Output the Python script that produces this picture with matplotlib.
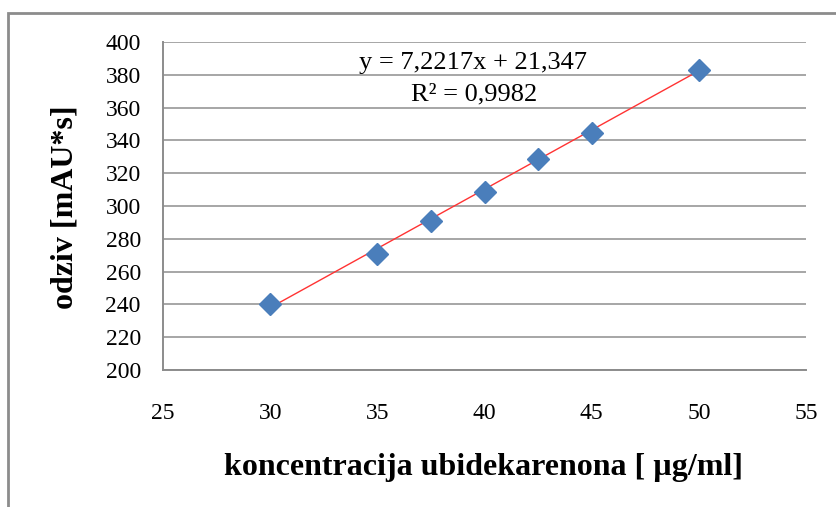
import numpy as np
import matplotlib.pyplot as plt
from matplotlib.patches import Rectangle

# concentration [ug/ml] and response [mAU*s]
conc = [30, 35, 37.5, 40, 42.5, 45, 50]
odziv = [240.5, 270.8, 291.0, 308.8, 328.8, 344.5, 383.2]

# trendline as given on the chart
slope = 7.2217
intercept = 21.347
r2 = 0.9982

x_ticks = [25, 30, 35, 40, 45, 50, 55]
y_ticks = [200, 220, 240, 260, 280, 300, 320, 340, 360, 380, 400]

plt.rcParams['font.family'] = ['Liberation Serif', 'DejaVu Serif']

fig = plt.figure(figsize=(8.37, 5.07), dpi=100)
ax = fig.add_axes([163 / 837, 1 - 370 / 507, (806 - 163) / 837, (370 - 42) / 507])

# outer chart frame
fig.patches.append(Rectangle((8 / 837, -0.1), 1.2, 1 - 13 / 507 + 0.1, transform=fig.transFigure,
                             fill=False, edgecolor='#8c8c8c', linewidth=2))

ax.set_xlim(25, 55)
ax.set_ylim(200, 400)
ax.set_xticks(x_ticks)
ax.set_yticks(y_ticks)
ax.yaxis.grid(True, color='#a6a6a6', linewidth=1.4)
ax.set_axisbelow(True)
for side in ['top', 'right']:
    ax.spines[side].set_visible(False)
for side in ['left', 'bottom']:
    ax.spines[side].set_color('#8c8c8c')
    ax.spines[side].set_linewidth(1.4)
ax.tick_params(axis='both', length=0, labelsize=17)
ax.tick_params(axis='x', pad=24)
ax.tick_params(axis='y', pad=16)

xs = np.array([min(conc), max(conc)])
ax.plot(xs, slope * xs + intercept, color='#ff3333', linewidth=1, zorder=2)
ax.plot(conc, odziv, linestyle='none', marker='D', markersize=11,
        color='#4a7ebb', zorder=3, clip_on=False)

ax.text(473 / 837, 1 - 63 / 507, 'y = 7,2217x + 21,347', transform=fig.transFigure,
        ha='center', va='center', fontsize=19)
ax.text(474 / 837, 1 - 94 / 507, 'R² = 0,9982', transform=fig.transFigure,
        ha='center', va='center', fontsize=19)

fig.text(65 / 837, 1 - 207 / 507, 'odziv [mAU*s]', rotation=90, ha='center', va='center',
         fontsize=23, fontweight='bold')
fig.text(484 / 837, 1 - 467 / 507, 'koncentracija ubidekarenona [ µg/ml]', ha='center', va='center',
         fontsize=23, fontweight='bold')

fig.savefig('out.png', dpi=100)
